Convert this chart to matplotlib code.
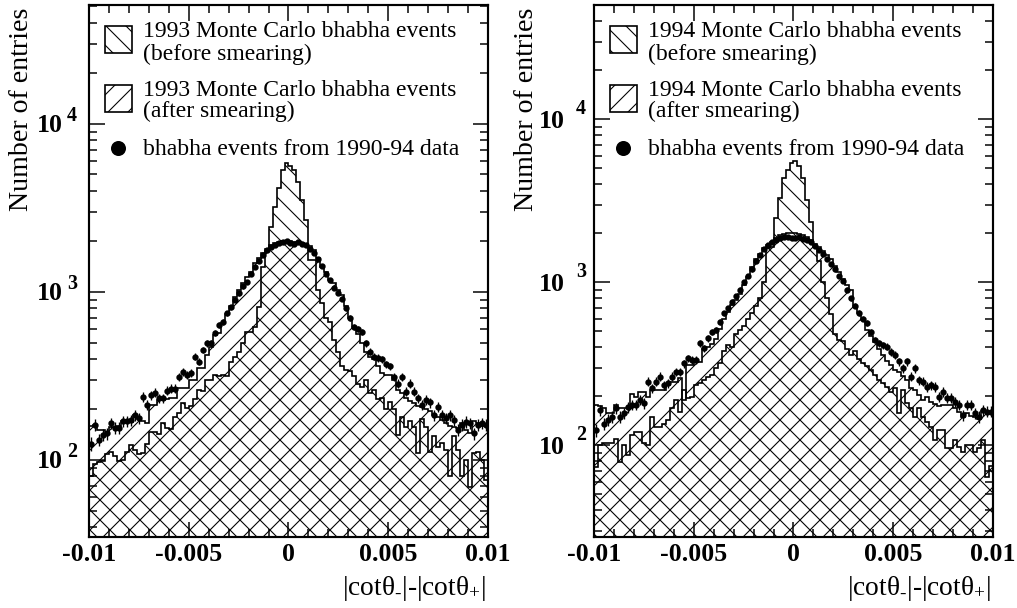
import numpy as np
import matplotlib
matplotlib.use('Agg')
import matplotlib.pyplot as plt
from matplotlib.patches import Rectangle
import matplotlib.transforms as mtransforms
from matplotlib.ticker import FixedLocator, NullFormatter, MultipleLocator, LogLocator

plt.rcParams['font.family'] = ['Liberation Serif', 'DejaVu Serif']
plt.rcParams['mathtext.fontset'] = 'custom'
plt.rcParams['mathtext.rm'] = 'Liberation Serif'
plt.rcParams['mathtext.it'] = 'Liberation Serif:italic'
plt.rcParams['mathtext.bf'] = 'Liberation Serif:bold'
plt.rcParams['mathtext.default'] = 'rm'
plt.rcParams['hatch.linewidth'] = 0.65

# ---------------- data ----------------
x_min, x_max, n_bins = -0.01, 0.01, 100
xtick_values = [-0.01, -0.005, 0, 0.005, 0.01]
xtick_labels = ['-0.01', '-0.005', '0', '0.005', '0.01']
years = ['1993', '1994']

before_1993 = [
    80, 95, 97, 98, 108, 112, 105, 98, 100, 112,
    123, 115, 108, 110, 125, 147, 147, 143, 165, 155,
    152, 180, 190, 217, 205, 210, 232, 261, 258, 299,
    300, 321, 318, 321, 315, 385, 412, 441, 500, 575,
    580, 620, 813, 1400, 1750, 2440, 3200, 4160, 5320, 5860,
    5600, 5320, 4520, 3530, 2690, 1550, 1550, 1030, 860, 700,
    665, 520, 441, 361, 345, 340, 315, 285, 273, 299,
    250, 260, 230, 235, 200, 220, 200, 141, 181, 158,
    170, 158, 110, 175, 158, 112, 138, 120, 126, 115,
    80, 138, 115, 80, 100, 69, 110, 112, 100, 76]

after_1993 = [
    160, 162, 150, 150, 147, 158, 158, 160, 170, 172,
    169, 186, 175, 170, 165, 212, 212, 228, 228, 230,
    233, 233, 267, 267, 267, 299, 299, 351, 351, 422,
    473, 555, 568, 651, 740, 820, 933, 1028, 1130, 1230,
    1320, 1490, 1590, 1700, 1800, 1900, 1950, 1990, 2000, 1990,
    2000, 1990, 1980, 1960, 1930, 1880, 1770, 1590, 1410, 1320,
    1180, 1130, 1030, 960, 830, 700, 620, 560, 500, 441,
    410, 400, 360, 330, 320, 320, 300, 261, 250, 235,
    225, 219, 210, 207, 200, 195, 185, 180, 173, 165,
    160, 158, 155, 166, 150, 145, 170, 165, 160, 162]

data_1993 = [
    125, 162, 132, 141, 144, 165, 155, 155, 170, 170,
    172, 185, 178, 238, 212, 243, 252, 233, 233, 259,
    265, 265, 313, 336, 321, 328, 412, 385, 452, 495,
    495, 568, 636, 665, 746, 810, 900, 980, 1080, 1150,
    1280, 1400, 1520, 1650, 1780, 1850, 1900, 1950, 1990, 2000,
    1960, 1940, 1980, 1920, 1900, 1800, 1700, 1560, 1420, 1280,
    1170, 1060, 990, 910, 800, 700, 622, 600, 580, 495,
    441, 412, 405, 398, 370, 361, 313, 285, 313, 255,
    285, 255, 233, 212, 228, 220, 185, 208, 185, 178,
    185, 173, 151, 162, 169, 166, 144, 162, 165, 162]

before_1994 = [
    74, 100, 103, 103, 103, 110, 79, 100, 87, 116,
    121, 121, 103, 100, 150, 130, 130, 136, 143, 169,
    190, 161, 218, 195, 199, 234, 240, 250, 264, 270,
    300, 318, 380, 410, 400, 480, 510, 540, 600, 650,
    720, 800, 1000, 1620, 1650, 2480, 3300, 4370, 4890, 5390,
    5550, 5200, 4370, 3200, 2340, 1650, 1350, 1000, 800, 640,
    480, 443, 438, 390, 360, 380, 340, 318, 305, 290,
    270, 252, 240, 229, 213, 225, 157, 218, 181, 170,
    150, 169, 150, 140, 130, 108, 124, 124, 96, 96,
    108, 98, 91, 100, 100, 91, 96, 108, 64, 75]

after_1994 = [
    177, 175, 170, 157, 157, 177, 169, 169, 169, 208,
    199, 213, 213, 199, 218, 218, 218, 218, 234, 246,
    246, 258, 190, 311, 311, 326, 326, 390, 400, 420,
    450, 520, 598, 661, 727, 780, 850, 960, 1080, 1250,
    1400, 1500, 1620, 1690, 1780, 1880, 1950, 1980, 2000, 2000,
    2000, 1990, 1960, 1900, 1820, 1720, 1640, 1560, 1480, 1400,
    1260, 1150, 1050, 960, 900, 720, 650, 590, 510, 470,
    430, 390, 360, 330, 310, 290, 280, 265, 252, 225,
    218, 205, 190, 199, 185, 180, 175, 178, 178, 178,
    170, 160, 150, 158, 152, 150, 145, 162, 160, 158]

data_1994 = [
    124, 165, 136, 143, 150, 169, 150, 157, 172, 177,
    177, 190, 181, 246, 224, 246, 264, 234, 240, 264,
    283, 283, 318, 342, 336, 336, 422, 394, 453, 498,
    510, 573, 646, 693, 760, 820, 900, 1000, 1100, 1200,
    1350, 1480, 1600, 1700, 1760, 1830, 1870, 1900, 1900, 1880,
    1860, 1890, 1850, 1820, 1760, 1680, 1580, 1500, 1400, 1300,
    1200, 1100, 1020, 900, 800, 720, 650, 600, 560, 497,
    443, 422, 410, 403, 375, 358, 327, 297, 327, 264,
    297, 252, 246, 229, 234, 229, 199, 213, 195, 195,
    185, 177, 153, 177, 177, 157, 150, 165, 161, 161]

ylims = [(34.8, 51000), (27.4, 50300)]

# ---------------- figure ----------------
DPI = 120
fig = plt.figure(figsize=(1018 / DPI, 608 / DPI), dpi=DPI)

edges = np.linspace(x_min, x_max, n_bins + 1)
centers = 0.5 * (edges[:-1] + edges[1:])

LBL = 15.5
HATCH_AFTER = '//'
HATCH_BEFORE = '\\\\'


def panel(rect, year, before, after, data, ylim, ten_dx, exp_dx, exp_dy):
    before = np.asarray(before, float)
    after = np.asarray(after, float)
    data = np.asarray(data, float)
    ax = fig.add_axes(rect)
    ax.set_yscale('log')
    ax.set_xlim(x_min, x_max)
    ax.set_ylim(*ylim)

    ax.stairs(after, edges, baseline=1, fill=True, facecolor='none',
              edgecolor='black', hatch=HATCH_AFTER, linewidth=0)
    ax.stairs(before, edges, baseline=1, fill=True, facecolor='none',
              edgecolor='black', hatch=HATCH_BEFORE, linewidth=0)
    ax.stairs(after, edges, baseline=None, color='black', lw=1.0)
    ax.stairs(before, edges, baseline=None, color='black', lw=1.0)
    ax.errorbar(centers, data, yerr=np.sqrt(data), fmt='o', ms=2.8,
                color='black', elinewidth=0.8, capsize=0, zorder=5)

    # ticks
    ax.xaxis.set_major_locator(FixedLocator(xtick_values))
    ax.xaxis.set_minor_locator(MultipleLocator(0.001))
    ax.set_xticklabels(xtick_labels, fontsize=LBL, fontweight='bold')
    ax.yaxis.set_major_locator(LogLocator(base=10, numticks=10))
    ax.yaxis.set_minor_locator(LogLocator(base=10, subs=np.arange(2, 10), numticks=40))
    ax.yaxis.set_major_formatter(NullFormatter())
    ax.yaxis.set_minor_formatter(NullFormatter())
    ax.tick_params(which='both', direction='in', top=True, right=True, width=0.9)
    ax.tick_params(which='major', length=9.3)
    ax.tick_params(which='minor', length=4.6)
    ax.tick_params(axis='x', which='major', pad=3.5)
    for s in ax.spines.values():
        s.set_linewidth(1.3)

    # y tick labels 10^k
    ytr = ax.get_yaxis_transform()
    for k in (2, 3, 4):
        t1 = mtransforms.offset_copy(ytr, fig=fig, x=ten_dx, y=-2, units='dots')
        ax.text(0, 10 ** k, '10', transform=t1, ha='right', va='center',
                fontsize=LBL, fontweight='bold')
        t2 = mtransforms.offset_copy(ytr, fig=fig, x=exp_dx, y=exp_dy, units='dots')
        ax.text(0, 10 ** k, str(k), transform=t2, ha='left', va='center',
                fontsize=12, fontweight='bold')

    # axis titles
    ax.text(-0.168, 0.996, 'Number of entries', transform=ax.transAxes,
            rotation=90, ha='center', va='top', fontsize=16.7)
    ax.text(0.994, -0.109,
            r'$|\mathrm{cot}\theta_{\text{-}}|\text{-}|\mathrm{cot}\theta_{+}|$',
            transform=ax.transAxes, ha='right', va='baseline', fontsize=16.5)

    # legend
    for (y0, hatch) in [(0.910, HATCH_BEFORE), (0.799, HATCH_AFTER)]:
        ax.add_patch(Rectangle((0.040, y0), 0.068, 0.050, transform=ax.transAxes,
                               facecolor='white', edgecolor='black', hatch=hatch,
                               lw=1.0, zorder=6))
    fs = 14.2
    tx = 0.135
    ax.text(tx, 0.9393, year + ' Monte Carlo bhabha events', transform=ax.transAxes,
            fontsize=fs, va='baseline')
    ax.text(tx, 0.8966, '(before smearing)', transform=ax.transAxes,
            fontsize=fs, va='baseline')
    ax.text(tx, 0.8295, year + ' Monte Carlo bhabha events', transform=ax.transAxes,
            fontsize=fs, va='baseline')
    ax.text(tx, 0.790, '(after smearing)', transform=ax.transAxes,
            fontsize=fs, va='baseline')
    ax.plot([0.073], [0.731], 'o', transform=ax.transAxes, ms=8, color='black',
            clip_on=False, zorder=6)
    ax.text(tx, 0.718, 'bhabha events from 1990-94 data', transform=ax.transAxes,
            fontsize=fs, va='baseline')
    return ax


W, H = 1018.0, 608.0
panel([89 / W, 1 - 537 / H, 399 / W, 532 / H], years[0],
      before_1993, after_1993, data_1993, ylims[0], -26, -22, 8)
panel([594 / W, 1 - 537 / H, 399 / W, 532 / H], years[1],
      before_1994, after_1994, data_1994, ylims[1], -29, -18, 10)

fig.savefig('out.png', dpi=DPI)
